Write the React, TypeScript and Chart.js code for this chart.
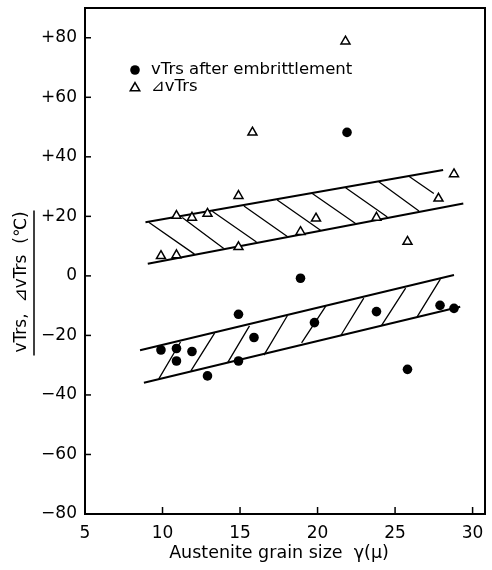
import React, { useEffect, useRef } from 'react';
import { Chart, registerables } from 'chart.js';

Chart.register(...registerables);

// ---- axes ----
const X_TICKS = [5, 10, 15, 20, 25, 30];
const Y_TICKS = [-80, -60, -40, -20, 0, 20, 40, 60, 80];
const X_MIN = 5;
const X_MAX = 30.8;
const Y_MIN = -80;
const Y_MAX = 90;

const X_TITLE = 'Austenite grain size  γ(μ)';
const Y_TITLE = 'vTrs,  ⊿vTrs  (℃)';
const LEGEND_LABELS = ['vTrs after embrittlement', '⊿vTrs'];

// ---- series: vTrs after embrittlement (filled dots) ----
const VTRS_X = [9.9, 10.9, 10.9, 11.9, 12.9, 14.9, 14.9, 15.9, 18.9, 19.8, 21.9, 23.8, 25.8, 27.9, 28.8];
const VTRS_Y = [-24.9, -24.4, -28.6, -25.4, -33.6, -12.9, -28.6, -20.7, -0.8, -15.7, 48.2, -12, -31.4, -9.9, -10.9];

// ---- series: delta vTrs (open triangles) ----
const DELTA_X = [9.9, 10.9, 10.9, 11.9, 12.9, 14.9, 14.9, 15.8, 18.9, 19.9, 21.8, 23.8, 25.8, 27.8, 28.8];
const DELTA_Y = [6.7, 7, 20.2, 19.6, 20.9, 26.9, 9.7, 48.2, 14.8, 19.3, 78.8, 19.6, 11.5, 26, 34.2];

// ---- scatter bands (end points of the boundary lines) ----
const UPPER_TOP_X = [8.9, 28.1];
const UPPER_TOP_Y = [18, 35.6];
const UPPER_BOT_X = [9.05, 29.4];
const UPPER_BOT_Y = [4.1, 24.3];
const LOWER_TOP_X = [8.55, 28.8];
const LOWER_TOP_Y = [-25, 0.3];
const LOWER_BOT_X = [8.8, 29.2];
const LOWER_BOT_Y = [-35.9, -10.4];

// ---- hatch segments ----
const UPPER_HATCH_X1 = [9.11, 11.27, 13.21, 15.25, 17.4, 19.66, 21.81, 23.95, 25.89];
const UPPER_HATCH_Y1 = [18.0, 19.6, 21.7, 23.5, 25.5, 27.7, 29.6, 31.6, 33.5];
const UPPER_HATCH_X2 = [12.06, 13.95, 16.06, 18.05, 20.19, 22.45, 24.5, 26.54, 27.5];
const UPPER_HATCH_Y2 = [7.3, 9.2, 11.4, 13.2, 15.3, 17.6, 19.8, 21.8, 27.7];

const LOWER_HATCH_X1 = [9.76, 11.83, 14.19, 16.54, 18.97, 21.48, 24.11, 26.42];
const LOWER_HATCH_Y1 = [-34.6, -31.9, -29.2, -26.6, -22.5, -20.2, -16.8, -13.8];
const LOWER_HATCH_X2 = [11.16, 13.36, 15.61, 18.05, 20.54, 22.98, 25.68, 27.92];
const LOWER_HATCH_Y2 = [-22.2, -19.2, -16.8, -13.4, -10.1, -7.5, -4.1, -1.1];

const FONT = "'DejaVu Sans', 'Liberation Sans', sans-serif";

const pts = (xs: number[], ys: number[]) => xs.map((x, i) => ({ x, y: ys[i] }));
const segs = (x1: number[], y1: number[], x2: number[], y2: number[]) => {
  const out: { x: number; y: number | null }[] = [];
  x1.forEach((x, i) => {
    out.push({ x, y: y1[i] }, { x: x2[i], y: y2[i] }, { x: x2[i], y: null });
  });
  return out;
};

const lineDs = (data: any[], width: number) => ({
  data,
  showLine: true,
  borderColor: '#000',
  borderWidth: width,
  pointRadius: 0,
  pointHoverRadius: 0,
  spanGaps: false,
  fill: false,
});

const decorPlugin = {
  id: 'decor',
  afterDatasetsDraw(chart: any) {
    const { ctx, chartArea: a, scales } = chart;
    const xs = scales.x;
    const ys = scales.y;
    ctx.save();
    ctx.strokeStyle = '#000';
    ctx.fillStyle = '#000';

    // frame
    ctx.lineWidth = 2;
    ctx.strokeRect(a.left, a.top, a.right - a.left, a.bottom - a.top);

    // inward tick marks
    ctx.lineWidth = 1.5;
    Y_TICKS.forEach((v) => {
      const py = ys.getPixelForValue(v);
      ctx.beginPath();
      ctx.moveTo(a.left, py);
      ctx.lineTo(a.left + 6, py);
      ctx.stroke();
    });
    X_TICKS.forEach((v) => {
      const px = xs.getPixelForValue(v);
      ctx.beginPath();
      ctx.moveTo(px, a.bottom);
      ctx.lineTo(px, a.bottom - 7);
      ctx.stroke();
    });

    // legend
    const lx = a.left + 50;
    ctx.beginPath();
    ctx.arc(lx, a.top + 62, 4.8, 0, Math.PI * 2);
    ctx.fill();
    const ty = a.top + 80;
    const r = 5.5;
    ctx.beginPath();
    ctx.moveTo(lx, ty - r);
    ctx.lineTo(lx + r * Math.sin(Math.PI / 3), ty + r * 0.5);
    ctx.lineTo(lx - r * Math.sin(Math.PI / 3), ty + r * 0.5);
    ctx.closePath();
    ctx.lineWidth = 1.5;
    ctx.stroke();
    ctx.font = `16.5px ${FONT}`;
    ctx.textAlign = 'left';
    ctx.textBaseline = 'alphabetic';
    ctx.fillText(LEGEND_LABELS[0], lx + 16, a.top + 65.5);
    ctx.fillText(LEGEND_LABELS[1], lx + 16, a.top + 83);

    // x title
    ctx.font = `17.5px ${FONT}`;
    ctx.textAlign = 'center';
    ctx.textBaseline = 'middle';
    ctx.fillText(X_TITLE, a.left + 194, a.bottom + 39);

    // y title with underline
    ctx.translate(22, 282);
    ctx.rotate(-Math.PI / 2);
    ctx.font = `17px ${FONT}`;
    ctx.fillText(Y_TITLE, 0, 0);
    const w = ctx.measureText(Y_TITLE).width;
    ctx.lineWidth = 1.5;
    ctx.beginPath();
    ctx.moveTo(-w / 2 - 3, 12);
    ctx.lineTo(w / 2 + 1, 12);
    ctx.stroke();
    ctx.restore();
  },
};

export default function App() {
  const ref = useRef<HTMLCanvasElement | null>(null);

  useEffect(() => {
    if (!ref.current) return;
    const chart = new Chart(ref.current, {
      type: 'scatter',
      data: {
        datasets: [
          {
            data: pts(DELTA_X, DELTA_Y),
            pointStyle: 'triangle',
            pointRadius: 5.2,
            pointBorderWidth: 1.5,
            pointBorderColor: '#000',
            pointBackgroundColor: '#fff',
          },
          {
            data: pts(VTRS_X, VTRS_Y),
            pointStyle: 'circle',
            pointRadius: 4.8,
            pointBorderWidth: 0,
            pointBackgroundColor: '#000',
          },
          lineDs(pts(UPPER_TOP_X, UPPER_TOP_Y), 2),
          lineDs(pts(UPPER_BOT_X, UPPER_BOT_Y), 2),
          lineDs(pts(LOWER_TOP_X, LOWER_TOP_Y), 2),
          lineDs(pts(LOWER_BOT_X, LOWER_BOT_Y), 2),
          lineDs(segs(UPPER_HATCH_X1, UPPER_HATCH_Y1, UPPER_HATCH_X2, UPPER_HATCH_Y2), 1.3),
          lineDs(segs(LOWER_HATCH_X1, LOWER_HATCH_Y1, LOWER_HATCH_X2, LOWER_HATCH_Y2), 1.3),
        ] as any,
      },
      options: {
        animation: false,
        responsive: false,
        devicePixelRatio: 1,
        layout: { padding: { left: 0, right: 7, top: 8, bottom: 0 } },
        plugins: { legend: { display: false }, tooltip: { enabled: false } },
        events: [],
        scales: {
          x: {
            type: 'linear',
            min: X_MIN,
            max: X_MAX,
            grid: { display: false, drawTicks: false },
            border: { display: false },
            afterBuildTicks: (s: any) => {
              s.ticks = X_TICKS.map((v) => ({ value: v }));
            },
            afterFit: (s: any) => {
              s.height = 56;
              s.paddingLeft = 0;
              s.paddingRight = 0;
            },
            ticks: {
              color: '#000',
              font: { family: FONT, size: 17 },
              padding: 9,
              maxRotation: 0,
              callback: (v: any) => String(v),
            },
          },
          y: {
            type: 'linear',
            min: Y_MIN,
            max: Y_MAX,
            grid: { display: false, drawTicks: false },
            border: { display: false },
            afterBuildTicks: (s: any) => {
              s.ticks = Y_TICKS.map((v) => ({ value: v }));
            },
            afterFit: (s: any) => {
              s.width = 85;
              s.paddingTop = 0;
              s.paddingBottom = 0;
            },
            ticks: {
              color: '#000',
              font: { family: FONT, size: 17 },
              padding: 8,
              callback: (v: any) => (v > 0 ? '+' + v : v < 0 ? '−' + Math.abs(v) : '0'),
            },
          },
        },
      },
      plugins: [decorPlugin],
    });
    return () => chart.destroy();
  }, []);

  return (
    <div style={{ position: 'fixed', left: 0, top: 0, width: 492, height: 570, background: '#fff' }}>
      <canvas ref={ref} width={492} height={570} style={{ display: 'block' }} />
    </div>
  );
}
